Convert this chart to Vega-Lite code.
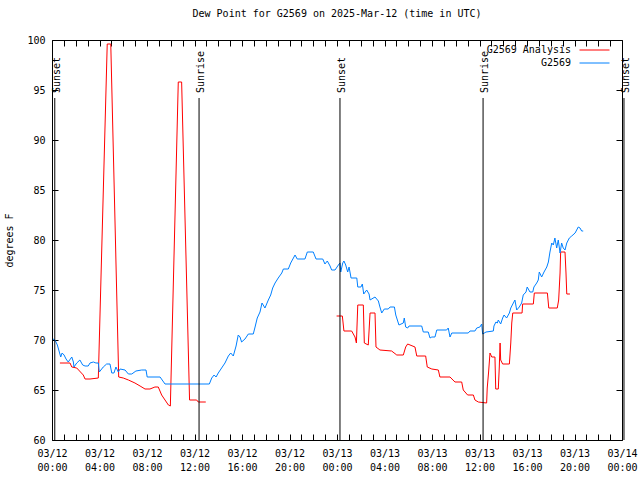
{
"$schema": "https://vega.github.io/schema/vega-lite/v6.json",
"width": 570, "height": 400,
"autosize": {"type": "none"},
"padding": {"left": 52, "top": 40, "right": 18, "bottom": 40},
"background": "white",
"title": {"text": "Dew Point for G2569 on 2025-Mar-12 (time in UTC)", "font": "DejaVu Sans Mono", "fontSize": 10, "fontWeight": "normal", "color": "black", "offset": 16, "anchor": "middle"},
"config": {
  "view": {"stroke": "black", "strokeWidth": 1},
  "axis": {"domain": false, "grid": false, "labelFont": "DejaVu Sans Mono", "labelFontSize": 10, "labelColor": "black", "titleFont": "DejaVu Sans Mono", "titleFontSize": 10, "titleFontWeight": "normal", "titleColor": "black", "tickColor": "black", "tickWidth": 1}
},
"datasets": {
"dew": [
{"s":"G2569 Analysis","r":"a1","t":"2025-03-12T00:40:00Z","v":67.7},
{"s":"G2569 Analysis","r":"a1","t":"2025-03-12T01:31:00Z","v":67.7},
{"s":"G2569 Analysis","r":"a1","t":"2025-03-12T01:40:00Z","v":67.3},
{"s":"G2569 Analysis","r":"a1","t":"2025-03-12T02:05:00Z","v":67.2},
{"s":"G2569 Analysis","r":"a1","t":"2025-03-12T02:38:00Z","v":66.5},
{"s":"G2569 Analysis","r":"a1","t":"2025-03-12T02:47:00Z","v":66.1},
{"s":"G2569 Analysis","r":"a1","t":"2025-03-12T03:12:00Z","v":66.1},
{"s":"G2569 Analysis","r":"a1","t":"2025-03-12T03:54:00Z","v":66.2},
{"s":"G2569 Analysis","r":"a1","t":"2025-03-12T04:39:00Z","v":99.6},
{"s":"G2569 Analysis","r":"a1","t":"2025-03-12T04:57:00Z","v":99.6},
{"s":"G2569 Analysis","r":"a1","t":"2025-03-12T05:37:00Z","v":66.3},
{"s":"G2569 Analysis","r":"a1","t":"2025-03-12T06:00:00Z","v":66.2},
{"s":"G2569 Analysis","r":"a1","t":"2025-03-12T06:26:00Z","v":66.0},
{"s":"G2569 Analysis","r":"a1","t":"2025-03-12T06:59:00Z","v":65.7},
{"s":"G2569 Analysis","r":"a1","t":"2025-03-12T07:25:00Z","v":65.4},
{"s":"G2569 Analysis","r":"a1","t":"2025-03-12T07:50:00Z","v":65.1},
{"s":"G2569 Analysis","r":"a1","t":"2025-03-12T08:15:00Z","v":65.1},
{"s":"G2569 Analysis","r":"a1","t":"2025-03-12T08:40:00Z","v":65.3},
{"s":"G2569 Analysis","r":"a1","t":"2025-03-12T08:57:00Z","v":65.3},
{"s":"G2569 Analysis","r":"a1","t":"2025-03-12T09:14:00Z","v":64.5},
{"s":"G2569 Analysis","r":"a1","t":"2025-03-12T09:48:00Z","v":63.5},
{"s":"G2569 Analysis","r":"a1","t":"2025-03-12T09:58:00Z","v":63.4},
{"s":"G2569 Analysis","r":"a1","t":"2025-03-12T10:38:00Z","v":95.8},
{"s":"G2569 Analysis","r":"a1","t":"2025-03-12T10:55:00Z","v":95.8},
{"s":"G2569 Analysis","r":"a1","t":"2025-03-12T11:35:00Z","v":64.0},
{"s":"G2569 Analysis","r":"a1","t":"2025-03-12T12:11:00Z","v":64.0},
{"s":"G2569 Analysis","r":"a1","t":"2025-03-12T12:19:00Z","v":63.8},
{"s":"G2569 Analysis","r":"a1","t":"2025-03-12T12:57:00Z","v":63.8},
{"s":"G2569 Analysis","r":"a2","t":"2025-03-12T23:58:00Z","v":72.4},
{"s":"G2569 Analysis","r":"a2","t":"2025-03-13T00:27:00Z","v":72.4},
{"s":"G2569 Analysis","r":"a2","t":"2025-03-13T00:35:00Z","v":70.9},
{"s":"G2569 Analysis","r":"a2","t":"2025-03-13T01:14:00Z","v":70.9},
{"s":"G2569 Analysis","r":"a2","t":"2025-03-13T01:31:00Z","v":70.3},
{"s":"G2569 Analysis","r":"a2","t":"2025-03-13T01:38:00Z","v":69.7},
{"s":"G2569 Analysis","r":"a2","t":"2025-03-13T01:45:00Z","v":73.5},
{"s":"G2569 Analysis","r":"a2","t":"2025-03-13T02:13:00Z","v":73.5},
{"s":"G2569 Analysis","r":"a2","t":"2025-03-13T02:18:00Z","v":69.7},
{"s":"G2569 Analysis","r":"a2","t":"2025-03-13T02:38:00Z","v":69.5},
{"s":"G2569 Analysis","r":"a2","t":"2025-03-13T02:47:00Z","v":72.7},
{"s":"G2569 Analysis","r":"a2","t":"2025-03-13T03:12:00Z","v":72.7},
{"s":"G2569 Analysis","r":"a2","t":"2025-03-13T03:17:00Z","v":69.3},
{"s":"G2569 Analysis","r":"a2","t":"2025-03-13T03:37:00Z","v":69.0},
{"s":"G2569 Analysis","r":"a2","t":"2025-03-13T04:36:00Z","v":68.9},
{"s":"G2569 Analysis","r":"a2","t":"2025-03-13T05:02:00Z","v":68.5},
{"s":"G2569 Analysis","r":"a2","t":"2025-03-13T05:35:00Z","v":68.5},
{"s":"G2569 Analysis","r":"a2","t":"2025-03-13T05:47:00Z","v":69.3},
{"s":"G2569 Analysis","r":"a2","t":"2025-03-13T05:57:00Z","v":69.6},
{"s":"G2569 Analysis","r":"a2","t":"2025-03-13T06:34:00Z","v":69.3},
{"s":"G2569 Analysis","r":"a2","t":"2025-03-13T06:43:00Z","v":68.4},
{"s":"G2569 Analysis","r":"a2","t":"2025-03-13T07:28:00Z","v":68.4},
{"s":"G2569 Analysis","r":"a2","t":"2025-03-13T07:36:00Z","v":67.3},
{"s":"G2569 Analysis","r":"a2","t":"2025-03-13T07:59:00Z","v":67.1},
{"s":"G2569 Analysis","r":"a2","t":"2025-03-13T08:32:00Z","v":67.0},
{"s":"G2569 Analysis","r":"a2","t":"2025-03-13T08:40:00Z","v":66.3},
{"s":"G2569 Analysis","r":"a2","t":"2025-03-13T09:31:00Z","v":66.3},
{"s":"G2569 Analysis","r":"a2","t":"2025-03-13T09:56:00Z","v":65.8},
{"s":"G2569 Analysis","r":"a2","t":"2025-03-13T10:30:00Z","v":65.8},
{"s":"G2569 Analysis","r":"a2","t":"2025-03-13T10:38:00Z","v":65.0},
{"s":"G2569 Analysis","r":"a2","t":"2025-03-13T11:00:00Z","v":64.5},
{"s":"G2569 Analysis","r":"a2","t":"2025-03-13T11:29:00Z","v":64.5},
{"s":"G2569 Analysis","r":"a2","t":"2025-03-13T11:37:00Z","v":64.0},
{"s":"G2569 Analysis","r":"a2","t":"2025-03-13T11:54:00Z","v":63.8},
{"s":"G2569 Analysis","r":"a2","t":"2025-03-13T12:36:00Z","v":63.7},
{"s":"G2569 Analysis","r":"a2","t":"2025-03-13T12:39:00Z","v":65.2},
{"s":"G2569 Analysis","r":"a2","t":"2025-03-13T12:46:00Z","v":66.8},
{"s":"G2569 Analysis","r":"a2","t":"2025-03-13T12:53:00Z","v":68.7},
{"s":"G2569 Analysis","r":"a2","t":"2025-03-13T13:02:00Z","v":68.3},
{"s":"G2569 Analysis","r":"a2","t":"2025-03-13T13:18:00Z","v":68.3},
{"s":"G2569 Analysis","r":"a2","t":"2025-03-13T13:22:00Z","v":65.1},
{"s":"G2569 Analysis","r":"a2","t":"2025-03-13T13:35:00Z","v":65.1},
{"s":"G2569 Analysis","r":"a2","t":"2025-03-13T13:40:00Z","v":67.3},
{"s":"G2569 Analysis","r":"a2","t":"2025-03-13T13:44:00Z","v":69.7},
{"s":"G2569 Analysis","r":"a2","t":"2025-03-13T13:47:00Z","v":68.0},
{"s":"G2569 Analysis","r":"a2","t":"2025-03-13T13:57:00Z","v":67.6},
{"s":"G2569 Analysis","r":"a2","t":"2025-03-13T14:31:00Z","v":67.6},
{"s":"G2569 Analysis","r":"a2","t":"2025-03-13T14:38:00Z","v":69.7},
{"s":"G2569 Analysis","r":"a2","t":"2025-03-13T14:43:00Z","v":71.7},
{"s":"G2569 Analysis","r":"a2","t":"2025-03-13T14:48:00Z","v":72.7},
{"s":"G2569 Analysis","r":"a2","t":"2025-03-13T15:35:00Z","v":72.7},
{"s":"G2569 Analysis","r":"a2","t":"2025-03-13T15:38:00Z","v":73.6},
{"s":"G2569 Analysis","r":"a2","t":"2025-03-13T16:32:00Z","v":73.6},
{"s":"G2569 Analysis","r":"a2","t":"2025-03-13T16:37:00Z","v":74.7},
{"s":"G2569 Analysis","r":"a2","t":"2025-03-13T17:43:00Z","v":74.7},
{"s":"G2569 Analysis","r":"a2","t":"2025-03-13T17:50:00Z","v":73.2},
{"s":"G2569 Analysis","r":"a2","t":"2025-03-13T18:33:00Z","v":73.2},
{"s":"G2569 Analysis","r":"a2","t":"2025-03-13T18:40:00Z","v":74.0},
{"s":"G2569 Analysis","r":"a2","t":"2025-03-13T18:47:00Z","v":76.7},
{"s":"G2569 Analysis","r":"a2","t":"2025-03-13T18:50:00Z","v":78.8},
{"s":"G2569 Analysis","r":"a2","t":"2025-03-13T19:12:00Z","v":78.8},
{"s":"G2569 Analysis","r":"a2","t":"2025-03-13T19:17:00Z","v":76.7},
{"s":"G2569 Analysis","r":"a2","t":"2025-03-13T19:21:00Z","v":74.6},
{"s":"G2569 Analysis","r":"a2","t":"2025-03-13T19:37:00Z","v":74.6},
{"s":"G2569","r":"b","t":"2025-03-12T00:05:00Z","v":70.1},
{"s":"G2569","r":"b","t":"2025-03-12T00:15:00Z","v":70.0},
{"s":"G2569","r":"b","t":"2025-03-12T00:27:00Z","v":69.5},
{"s":"G2569","r":"b","t":"2025-03-12T00:37:00Z","v":68.8},
{"s":"G2569","r":"b","t":"2025-03-12T00:44:00Z","v":68.3},
{"s":"G2569","r":"b","t":"2025-03-12T00:51:00Z","v":68.7},
{"s":"G2569","r":"b","t":"2025-03-12T01:01:00Z","v":68.5},
{"s":"G2569","r":"b","t":"2025-03-12T01:11:00Z","v":68.1},
{"s":"G2569","r":"b","t":"2025-03-12T01:22:00Z","v":67.8},
{"s":"G2569","r":"b","t":"2025-03-12T01:40:00Z","v":68.3},
{"s":"G2569","r":"b","t":"2025-03-12T01:48:00Z","v":67.8},
{"s":"G2569","r":"b","t":"2025-03-12T01:51:00Z","v":67.3},
{"s":"G2569","r":"b","t":"2025-03-12T02:05:00Z","v":67.7},
{"s":"G2569","r":"b","t":"2025-03-12T02:21:00Z","v":68.0},
{"s":"G2569","r":"b","t":"2025-03-12T02:35:00Z","v":67.5},
{"s":"G2569","r":"b","t":"2025-03-12T02:47:00Z","v":67.4},
{"s":"G2569","r":"b","t":"2025-03-12T03:03:00Z","v":67.4},
{"s":"G2569","r":"b","t":"2025-03-12T03:12:00Z","v":67.7},
{"s":"G2569","r":"b","t":"2025-03-12T03:29:00Z","v":67.8},
{"s":"G2569","r":"b","t":"2025-03-12T03:42:00Z","v":67.7},
{"s":"G2569","r":"b","t":"2025-03-12T03:54:00Z","v":67.7},
{"s":"G2569","r":"b","t":"2025-03-12T03:59:00Z","v":66.8},
{"s":"G2569","r":"b","t":"2025-03-12T04:19:00Z","v":67.3},
{"s":"G2569","r":"b","t":"2025-03-12T04:36:00Z","v":67.6},
{"s":"G2569","r":"b","t":"2025-03-12T04:53:00Z","v":67.6},
{"s":"G2569","r":"b","t":"2025-03-12T05:02:00Z","v":66.7},
{"s":"G2569","r":"b","t":"2025-03-12T05:13:00Z","v":66.7},
{"s":"G2569","r":"b","t":"2025-03-12T05:23:00Z","v":67.3},
{"s":"G2569","r":"b","t":"2025-03-12T05:35:00Z","v":66.8},
{"s":"G2569","r":"b","t":"2025-03-12T05:44:00Z","v":67.1},
{"s":"G2569","r":"b","t":"2025-03-12T06:09:00Z","v":67.0},
{"s":"G2569","r":"b","t":"2025-03-12T06:26:00Z","v":66.6},
{"s":"G2569","r":"b","t":"2025-03-12T06:43:00Z","v":66.6},
{"s":"G2569","r":"b","t":"2025-03-12T07:04:00Z","v":66.9},
{"s":"G2569","r":"b","t":"2025-03-12T07:33:00Z","v":67.0},
{"s":"G2569","r":"b","t":"2025-03-12T07:55:00Z","v":67.0},
{"s":"G2569","r":"b","t":"2025-03-12T08:01:00Z","v":66.3},
{"s":"G2569","r":"b","t":"2025-03-12T09:06:00Z","v":66.3},
{"s":"G2569","r":"b","t":"2025-03-12T09:31:00Z","v":65.6},
{"s":"G2569","r":"b","t":"2025-03-12T13:15:00Z","v":65.6},
{"s":"G2569","r":"b","t":"2025-03-12T13:27:00Z","v":66.2},
{"s":"G2569","r":"b","t":"2025-03-12T13:39:00Z","v":66.5},
{"s":"G2569","r":"b","t":"2025-03-12T13:49:00Z","v":66.3},
{"s":"G2569","r":"b","t":"2025-03-12T14:00:00Z","v":66.7},
{"s":"G2569","r":"b","t":"2025-03-12T14:17:00Z","v":67.2},
{"s":"G2569","r":"b","t":"2025-03-12T14:34:00Z","v":67.7},
{"s":"G2569","r":"b","t":"2025-03-12T14:51:00Z","v":68.4},
{"s":"G2569","r":"b","t":"2025-03-12T15:03:00Z","v":68.7},
{"s":"G2569","r":"b","t":"2025-03-12T15:16:00Z","v":68.4},
{"s":"G2569","r":"b","t":"2025-03-12T15:30:00Z","v":69.4},
{"s":"G2569","r":"b","t":"2025-03-12T15:41:00Z","v":70.5},
{"s":"G2569","r":"b","t":"2025-03-12T15:50:00Z","v":70.3},
{"s":"G2569","r":"b","t":"2025-03-12T15:58:00Z","v":69.8},
{"s":"G2569","r":"b","t":"2025-03-12T16:15:00Z","v":70.1},
{"s":"G2569","r":"b","t":"2025-03-12T16:32:00Z","v":70.6},
{"s":"G2569","r":"b","t":"2025-03-12T16:57:00Z","v":70.6},
{"s":"G2569","r":"b","t":"2025-03-12T17:06:00Z","v":71.3},
{"s":"G2569","r":"b","t":"2025-03-12T17:17:00Z","v":72.2},
{"s":"G2569","r":"b","t":"2025-03-12T17:31:00Z","v":72.8},
{"s":"G2569","r":"b","t":"2025-03-12T17:41:00Z","v":73.7},
{"s":"G2569","r":"b","t":"2025-03-12T17:56:00Z","v":73.2},
{"s":"G2569","r":"b","t":"2025-03-12T18:13:00Z","v":74.0},
{"s":"G2569","r":"b","t":"2025-03-12T18:25:00Z","v":74.5},
{"s":"G2569","r":"b","t":"2025-03-12T18:35:00Z","v":75.2},
{"s":"G2569","r":"b","t":"2025-03-12T18:47:00Z","v":75.7},
{"s":"G2569","r":"b","t":"2025-03-12T19:03:00Z","v":76.2},
{"s":"G2569","r":"b","t":"2025-03-12T19:21:00Z","v":76.7},
{"s":"G2569","r":"b","t":"2025-03-12T19:29:00Z","v":77.1},
{"s":"G2569","r":"b","t":"2025-03-12T19:54:00Z","v":77.1},
{"s":"G2569","r":"b","t":"2025-03-12T20:06:00Z","v":77.7},
{"s":"G2569","r":"b","t":"2025-03-12T20:28:00Z","v":78.5},
{"s":"G2569","r":"b","t":"2025-03-12T20:39:00Z","v":78.1},
{"s":"G2569","r":"b","t":"2025-03-12T21:18:00Z","v":78.1},
{"s":"G2569","r":"b","t":"2025-03-12T21:30:00Z","v":78.8},
{"s":"G2569","r":"b","t":"2025-03-12T22:00:00Z","v":78.8},
{"s":"G2569","r":"b","t":"2025-03-12T22:14:00Z","v":78.1},
{"s":"G2569","r":"b","t":"2025-03-12T22:48:00Z","v":78.1},
{"s":"G2569","r":"b","t":"2025-03-12T22:59:00Z","v":77.6},
{"s":"G2569","r":"b","t":"2025-03-12T23:11:00Z","v":77.9},
{"s":"G2569","r":"b","t":"2025-03-12T23:25:00Z","v":77.4},
{"s":"G2569","r":"b","t":"2025-03-12T23:33:00Z","v":77.0},
{"s":"G2569","r":"b","t":"2025-03-12T23:50:00Z","v":77.0},
{"s":"G2569","r":"b","t":"2025-03-13T00:07:00Z","v":77.5},
{"s":"G2569","r":"b","t":"2025-03-13T00:15:00Z","v":77.7},
{"s":"G2569","r":"b","t":"2025-03-13T00:19:00Z","v":76.8},
{"s":"G2569","r":"b","t":"2025-03-13T00:29:00Z","v":77.7},
{"s":"G2569","r":"b","t":"2025-03-13T00:35:00Z","v":77.9},
{"s":"G2569","r":"b","t":"2025-03-13T00:44:00Z","v":77.5},
{"s":"G2569","r":"b","t":"2025-03-13T00:54:00Z","v":76.8},
{"s":"G2569","r":"b","t":"2025-03-13T01:01:00Z","v":77.3},
{"s":"G2569","r":"b","t":"2025-03-13T01:11:00Z","v":76.2},
{"s":"G2569","r":"b","t":"2025-03-13T01:40:00Z","v":76.2},
{"s":"G2569","r":"b","t":"2025-03-13T01:45:00Z","v":75.3},
{"s":"G2569","r":"b","t":"2025-03-13T02:01:00Z","v":75.3},
{"s":"G2569","r":"b","t":"2025-03-13T02:08:00Z","v":75.6},
{"s":"G2569","r":"b","t":"2025-03-13T02:15:00Z","v":74.6},
{"s":"G2569","r":"b","t":"2025-03-13T02:30:00Z","v":75.0},
{"s":"G2569","r":"b","t":"2025-03-13T02:42:00Z","v":74.6},
{"s":"G2569","r":"b","t":"2025-03-13T02:47:00Z","v":74.0},
{"s":"G2569","r":"b","t":"2025-03-13T03:12:00Z","v":74.3},
{"s":"G2569","r":"b","t":"2025-03-13T03:29:00Z","v":73.9},
{"s":"G2569","r":"b","t":"2025-03-13T03:37:00Z","v":73.3},
{"s":"G2569","r":"b","t":"2025-03-13T03:46:00Z","v":72.7},
{"s":"G2569","r":"b","t":"2025-03-13T03:59:00Z","v":73.1},
{"s":"G2569","r":"b","t":"2025-03-13T04:19:00Z","v":73.1},
{"s":"G2569","r":"b","t":"2025-03-13T04:28:00Z","v":73.3},
{"s":"G2569","r":"b","t":"2025-03-13T04:50:00Z","v":73.3},
{"s":"G2569","r":"b","t":"2025-03-13T04:57:00Z","v":72.5},
{"s":"G2569","r":"b","t":"2025-03-13T05:13:00Z","v":71.5},
{"s":"G2569","r":"b","t":"2025-03-13T05:35:00Z","v":71.7},
{"s":"G2569","r":"b","t":"2025-03-13T05:40:00Z","v":72.2},
{"s":"G2569","r":"b","t":"2025-03-13T05:47:00Z","v":71.3},
{"s":"G2569","r":"b","t":"2025-03-13T05:57:00Z","v":71.2},
{"s":"G2569","r":"b","t":"2025-03-13T06:04:00Z","v":71.4},
{"s":"G2569","r":"b","t":"2025-03-13T07:08:00Z","v":71.4},
{"s":"G2569","r":"b","t":"2025-03-13T07:16:00Z","v":70.8},
{"s":"G2569","r":"b","t":"2025-03-13T07:41:00Z","v":70.8},
{"s":"G2569","r":"b","t":"2025-03-13T07:50:00Z","v":70.2},
{"s":"G2569","r":"b","t":"2025-03-13T07:59:00Z","v":70.3},
{"s":"G2569","r":"b","t":"2025-03-13T08:15:00Z","v":70.3},
{"s":"G2569","r":"b","t":"2025-03-13T08:24:00Z","v":71.0},
{"s":"G2569","r":"b","t":"2025-03-13T09:14:00Z","v":71.0},
{"s":"G2569","r":"b","t":"2025-03-13T09:22:00Z","v":71.2},
{"s":"G2569","r":"b","t":"2025-03-13T09:31:00Z","v":70.3},
{"s":"G2569","r":"b","t":"2025-03-13T09:40:00Z","v":70.7},
{"s":"G2569","r":"b","t":"2025-03-13T11:03:00Z","v":70.7},
{"s":"G2569","r":"b","t":"2025-03-13T11:12:00Z","v":70.9},
{"s":"G2569","r":"b","t":"2025-03-13T11:37:00Z","v":70.9},
{"s":"G2569","r":"b","t":"2025-03-13T11:46:00Z","v":71.2},
{"s":"G2569","r":"b","t":"2025-03-13T12:02:00Z","v":71.3},
{"s":"G2569","r":"b","t":"2025-03-13T12:11:00Z","v":71.6},
{"s":"G2569","r":"b","t":"2025-03-13T12:16:00Z","v":70.6},
{"s":"G2569","r":"b","t":"2025-03-13T12:33:00Z","v":70.8},
{"s":"G2569","r":"b","t":"2025-03-13T13:10:00Z","v":70.9},
{"s":"G2569","r":"b","t":"2025-03-13T13:13:00Z","v":71.4},
{"s":"G2569","r":"b","t":"2025-03-13T13:23:00Z","v":71.8},
{"s":"G2569","r":"b","t":"2025-03-13T13:30:00Z","v":71.7},
{"s":"G2569","r":"b","t":"2025-03-13T13:35:00Z","v":72.0},
{"s":"G2569","r":"b","t":"2025-03-13T13:47:00Z","v":71.6},
{"s":"G2569","r":"b","t":"2025-03-13T13:57:00Z","v":72.2},
{"s":"G2569","r":"b","t":"2025-03-13T14:04:00Z","v":72.5},
{"s":"G2569","r":"b","t":"2025-03-13T14:17:00Z","v":72.2},
{"s":"G2569","r":"b","t":"2025-03-13T14:31:00Z","v":72.7},
{"s":"G2569","r":"b","t":"2025-03-13T14:38:00Z","v":73.2},
{"s":"G2569","r":"b","t":"2025-03-13T14:51:00Z","v":73.7},
{"s":"G2569","r":"b","t":"2025-03-13T14:59:00Z","v":74.0},
{"s":"G2569","r":"b","t":"2025-03-13T15:08:00Z","v":73.0},
{"s":"G2569","r":"b","t":"2025-03-13T15:21:00Z","v":73.3},
{"s":"G2569","r":"b","t":"2025-03-13T15:33:00Z","v":73.7},
{"s":"G2569","r":"b","t":"2025-03-13T15:41:00Z","v":74.5},
{"s":"G2569","r":"b","t":"2025-03-13T15:55:00Z","v":74.8},
{"s":"G2569","r":"b","t":"2025-03-13T16:01:00Z","v":75.3},
{"s":"G2569","r":"b","t":"2025-03-13T16:15:00Z","v":74.8},
{"s":"G2569","r":"b","t":"2025-03-13T16:29:00Z","v":74.8},
{"s":"G2569","r":"b","t":"2025-03-13T16:35:00Z","v":75.3},
{"s":"G2569","r":"b","t":"2025-03-13T16:49:00Z","v":75.7},
{"s":"G2569","r":"b","t":"2025-03-13T16:57:00Z","v":76.0},
{"s":"G2569","r":"b","t":"2025-03-13T17:02:00Z","v":76.8},
{"s":"G2569","r":"b","t":"2025-03-13T17:14:00Z","v":76.3},
{"s":"G2569","r":"b","t":"2025-03-13T17:26:00Z","v":76.8},
{"s":"G2569","r":"b","t":"2025-03-13T17:40:00Z","v":77.3},
{"s":"G2569","r":"b","t":"2025-03-13T17:48:00Z","v":77.8},
{"s":"G2569","r":"b","t":"2025-03-13T17:56:00Z","v":78.8},
{"s":"G2569","r":"b","t":"2025-03-13T18:05:00Z","v":79.7},
{"s":"G2569","r":"b","t":"2025-03-13T18:13:00Z","v":79.5},
{"s":"G2569","r":"b","t":"2025-03-13T18:21:00Z","v":80.2},
{"s":"G2569","r":"b","t":"2025-03-13T18:30:00Z","v":79.2},
{"s":"G2569","r":"b","t":"2025-03-13T18:38:00Z","v":80.0},
{"s":"G2569","r":"b","t":"2025-03-13T18:47:00Z","v":78.7},
{"s":"G2569","r":"b","t":"2025-03-13T18:55:00Z","v":79.7},
{"s":"G2569","r":"b","t":"2025-03-13T19:03:00Z","v":79.2},
{"s":"G2569","r":"b","t":"2025-03-13T19:12:00Z","v":79.0},
{"s":"G2569","r":"b","t":"2025-03-13T19:21:00Z","v":79.7},
{"s":"G2569","r":"b","t":"2025-03-13T19:34:00Z","v":80.2},
{"s":"G2569","r":"b","t":"2025-03-13T19:46:00Z","v":80.4},
{"s":"G2569","r":"b","t":"2025-03-13T20:03:00Z","v":80.7},
{"s":"G2569","r":"b","t":"2025-03-13T20:11:00Z","v":81.0},
{"s":"G2569","r":"b","t":"2025-03-13T20:19:00Z","v":81.3},
{"s":"G2569","r":"b","t":"2025-03-13T20:28:00Z","v":81.2},
{"s":"G2569","r":"b","t":"2025-03-13T20:36:00Z","v":80.9},
{"s":"G2569","r":"b","t":"2025-03-13T20:44:00Z","v":80.9}
],
"sun": [
{"t":"2025-03-12T00:14:00Z","label":"Sunset"},
{"t":"2025-03-12T12:23:00Z","label":"Sunrise"},
{"t":"2025-03-13T00:15:00Z","label":"Sunset"},
{"t":"2025-03-13T12:18:00Z","label":"Sunrise"},
{"t":"2025-03-14T00:10:00Z","label":"Sunset"}
]
},
"layer": [
{
  "data": {"name": "dew"},
  "mark": {"type": "line", "strokeWidth": 1},
  "encoding": {
    "x": {"field": "t", "type": "temporal",
      "scale": {"type": "utc", "domain": [1741737600000, 1741910400000], "nice": false},
      "axis": {"orient": "bottom", "title": null,
        "values": [1741737600000, 1741741200000, 1741744800000, 1741748400000, 1741752000000, 1741755600000, 1741759200000, 1741762800000, 1741766400000, 1741770000000, 1741773600000, 1741777200000, 1741780800000, 1741784400000, 1741788000000, 1741791600000, 1741795200000, 1741798800000, 1741802400000, 1741806000000, 1741809600000, 1741813200000, 1741816800000, 1741820400000, 1741824000000, 1741827600000, 1741831200000, 1741834800000, 1741838400000, 1741842000000, 1741845600000, 1741849200000, 1741852800000, 1741856400000, 1741860000000, 1741863600000, 1741867200000, 1741870800000, 1741874400000, 1741878000000, 1741881600000, 1741885200000, 1741888800000, 1741892400000, 1741896000000, 1741899600000, 1741903200000, 1741906800000, 1741910400000],
        "labelExpr": "utchours(datum.value) % 4 == 0 ? [utcFormat(datum.value, '%m/%d'), utcFormat(datum.value, '%H:%M')] : ''",
        "labelOverlap": false, "labelFlush": false, "labelBound": false,
        "tickSize": -6,
        "encode": {"ticks": {"update": {"y2": {"signal": "utchours(datum.value) % 4 == 0 ? -6 : -3"}}}},
        "labelPadding": 14, "labelLineHeight": 14, "labelBaseline": "top"}},
    "y": {"field": "v", "type": "quantitative",
      "scale": {"domain": [60, 100], "nice": false, "zero": false},
      "axis": {"orient": "left", "title": "degrees F", "values": [60, 65, 70, 75, 80, 85, 90, 95, 100],
        "tickSize": -6, "labelPadding": 13, "titlePadding": 12}},
    "color": {"field": "s", "type": "nominal",
      "scale": {"domain": ["G2569 Analysis", "G2569"], "range": ["#ff0000", "#0080ff"]},
      "legend": {"orient": "none", "legendX": 521, "legendY": 4.5, "title": null, "padding": 0,
        "symbolType": "M-3,0H3", "symbolSize": 100, "symbolStrokeWidth": 1, "symbolFillColor": "transparent",
        "labelFont": "DejaVu Sans Mono", "labelFontSize": 10, "labelColor": "black",
        "labelAlign": "right", "labelOffset": -29, "symbolOffset": 16, "rowPadding": 2,
        "labelExpr": "datum.label == 'G2569' ? '\u00a0\u00a0\u00a0\u00a0\u00a0\u00a0\u00a0\u00a0\u00a0G2569' : datum.label"}},
    "detail": {"field": "r", "type": "nominal"}
  }
},
{
  "data": {"name": "sun"},
  "mark": {"type": "rule", "color": "black", "strokeWidth": 1},
  "encoding": {
    "x": {"field": "t", "type": "temporal",
      "axis": {"orient": "top", "title": null, "labels": false,
        "values": [1741737600000, 1741741200000, 1741744800000, 1741748400000, 1741752000000, 1741755600000, 1741759200000, 1741762800000, 1741766400000, 1741770000000, 1741773600000, 1741777200000, 1741780800000, 1741784400000, 1741788000000, 1741791600000, 1741795200000, 1741798800000, 1741802400000, 1741806000000, 1741809600000, 1741813200000, 1741816800000, 1741820400000, 1741824000000, 1741827600000, 1741831200000, 1741834800000, 1741838400000, 1741842000000, 1741845600000, 1741849200000, 1741852800000, 1741856400000, 1741860000000, 1741863600000, 1741867200000, 1741870800000, 1741874400000, 1741878000000, 1741881600000, 1741885200000, 1741888800000, 1741892400000, 1741896000000, 1741899600000, 1741903200000, 1741906800000, 1741910400000],
        "tickSize": -6,
        "encode": {"ticks": {"update": {"y2": {"signal": "utchours(datum.value) % 4 == 0 ? 6 : 3"}}}}}},
    "y": {"datum": 94.2, "type": "quantitative",
      "axis": {"orient": "right", "title": null, "labels": false, "values": [60, 65, 70, 75, 80, 85, 90, 95, 100], "tickSize": -6}},
    "y2": {"datum": 60}
  }
},
{
  "data": {"name": "sun"},
  "mark": {"type": "text", "angle": 270, "align": "left", "baseline": "middle", "dy": 2, "font": "DejaVu Sans Mono", "fontSize": 10, "color": "black"},
  "encoding": {
    "x": {"field": "t", "type": "temporal", "axis": null},
    "y": {"datum": 94.7, "type": "quantitative", "axis": null},
    "text": {"field": "label"}
  }
}
],
"resolve": {"axis": {"x": "independent", "y": "independent"}}
}
